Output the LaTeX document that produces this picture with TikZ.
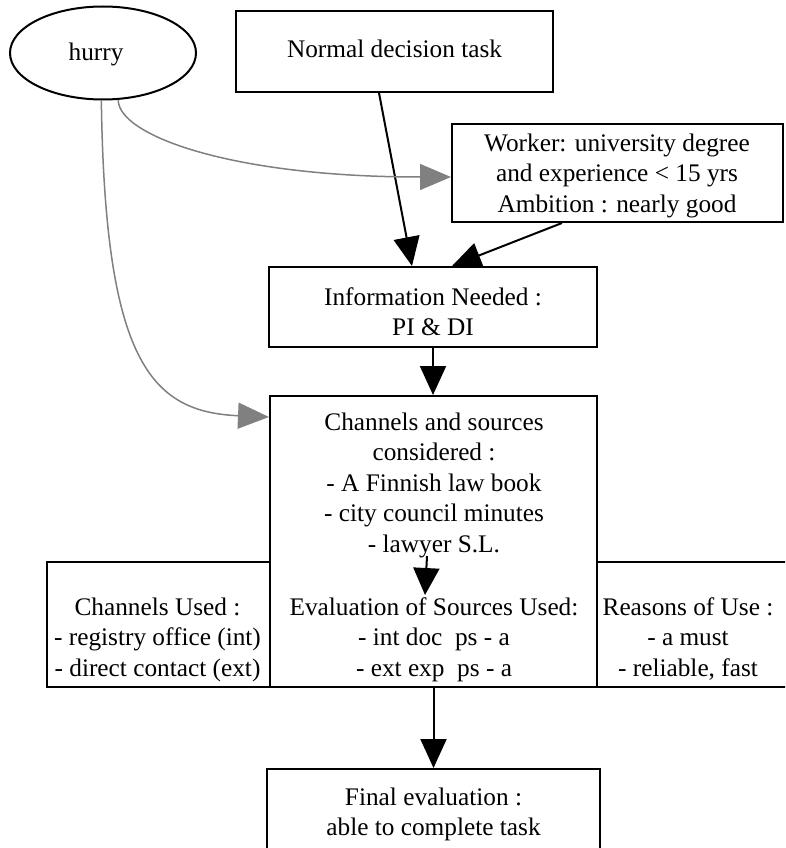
\documentclass[tikz,border=0pt]{standalone}
\usepackage{fontspec}
\setmainfont{Liberation Serif}
\usetikzlibrary{arrows.meta,shapes.geometric}
\newcommand\dfont{\fontsize{25.3}{30.5}\selectfont}
\tikzset{
  box/.style={draw, line width=2pt, rectangle, inner sep=0pt},
  oval/.style={draw, line width=2pt, ellipse, inner sep=0pt},
  lbl/.style={anchor=base, inner sep=0pt, font=\dfont},
  arr/.style={line width=2pt, -{Triangle[length=29pt,width=26pt]}},
  smallarr/.style={line width=2pt, -{Triangle[length=27pt,width=26pt]}},
  garr/.style={line width=1.5pt, draw=gray, -{Triangle[length=31pt,width=26pt,fill=gray]}},
}
\begin{document}
\begin{tikzpicture}[x=1pt,y=-1pt]
\useasboundingbox (0,0) rectangle (785,848);
\fill[white] (0,0) rectangle (785,848);
\clip (0,0) rectangle (785,848);

% shapes
\node[oval, minimum width=186pt, minimum height=93pt] (hurry) at (103,53) {};
\node[box, minimum width=317pt, minimum height=81pt] (nd) at (394.5,51.5) {};
\node[box, minimum width=331pt, minimum height=98pt] (worker) at (617.5,173) {};
\node[box, minimum width=328pt, minimum height=80pt] (info) at (433,307) {};
\node[box, minimum width=223.5pt, minimum height=125pt] (used) at (158.25,624.5) {};
\node[box, minimum width=190pt, minimum height=125pt] (reasons) at (692,624.5) {};
\node[box, minimum width=327pt, minimum height=291pt] (chan) at (433.5,541.5) {};
\node[box, minimum width=333pt, minimum height=81pt] (final) at (433.5,809.5) {};

% texts
\node[lbl] (hurry-t) at (96,61) {hurry};
\node[lbl] (nd-t) at (394.5,58) {Normal decision task};
\node[lbl] (worker-t) at (617,151) {\begin{tabular}[t]{@{}c@{}}Worker: university degree\\and experience < 15 yrs\\Ambition : nearly good\end{tabular}};
\node[lbl] (info-t) at (433,305) {\begin{tabular}[t]{@{}c@{}}Information Needed :\\PI \& DI\end{tabular}};
\node[lbl] (chan-t) at (434,430) {\begin{tabular}[t]{@{}c@{}}Channels and sources\\considered :\\- A Finnish law book\\- city council minutes\\- lawyer S.L.\end{tabular}};
\node[lbl] (eval-t) at (434,615) {\begin{tabular}[t]{@{}c@{}}Evaluation of Sources Used:\\- int doc\ \ ps - a\\- ext exp\ \ ps - a\end{tabular}};
\node[lbl] (used-t) at (157.5,615) {\begin{tabular}[t]{@{}c@{}}Channels Used :\\- registry office (int)\\- direct contact (ext)\end{tabular}};
\node[lbl] (reasons-t) at (688,615) {\begin{tabular}[t]{@{}c@{}}Reasons of Use :\\- a must\\- reliable, fast\end{tabular}};
\node[lbl] (final-t) at (433.5,805) {\begin{tabular}[t]{@{}c@{}}Final evaluation :\\able to complete task\end{tabular}};

% black connectors
\draw[arr] ([xshift=-15.5pt]nd.south) -- ([xshift=-21pt]info.north);
\draw[arr] ([xshift=-55.5pt]worker.south) -- ([xshift=19pt]info.north);
\draw[arr] (info.south) -- (info.south |- chan.north);
\coordinate (in1) at (427,556);
\coordinate (in2) at (425,595);
\draw[smallarr] (in1) -- (in2);
\draw[arr] (chan.south) -- (chan.south |- final.north);

% gray connectors
\draw[garr] (hurry.-72) .. controls (118,135) and (230,177) .. ([yshift=-4pt]worker.west);
\draw[garr] (hurry.-92) .. controls (105,360) and (150,412) .. ([yshift=124.5pt]chan.west);
\end{tikzpicture}
\end{document}
